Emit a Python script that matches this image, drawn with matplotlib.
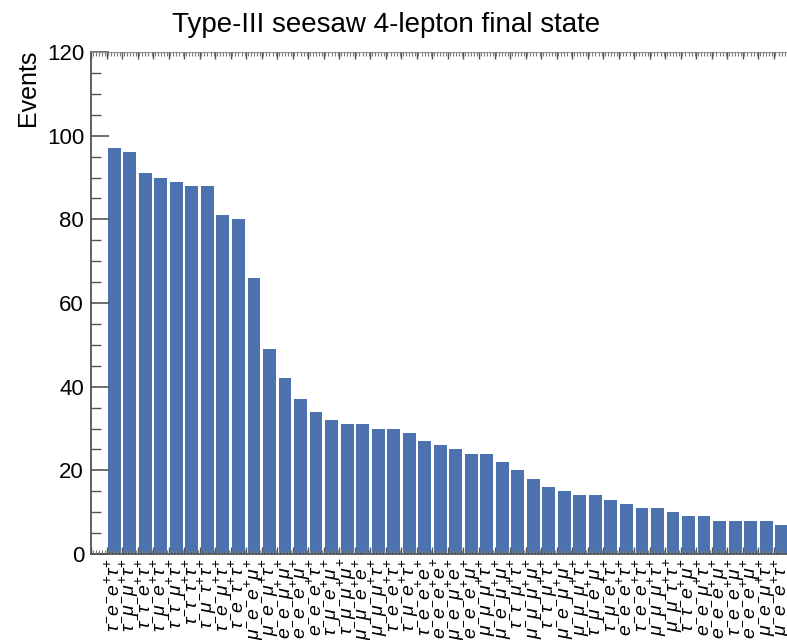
import matplotlib
matplotlib.use("Agg")
import matplotlib.pyplot as plt
from matplotlib.ticker import MultipleLocator, FixedLocator
import numpy as np

plt.rcParams['font.family'] = ['Liberation Sans', 'DejaVu Sans']
plt.rcParams['mathtext.fontset'] = 'custom'
plt.rcParams['mathtext.rm'] = 'Liberation Sans'
plt.rcParams['mathtext.it'] = 'Liberation Sans:italic'

channels = [
    "τ-e-e+τ+", "τ-μ-μ+τ+", "τ-τ-e+τ+", "τ-μ-e+τ+", "τ-τ-μ+τ+", "τ-τ-τ+τ+",
    "τ-μ-τ+τ+", "τ-e-μ+τ+", "τ-e-τ+τ+", "μ-e-e+μ+", "μ-e-μ+τ+", "e-e-μ+μ+",
    "e-e-e+μ+", "e-e-e+τ+", "τ-μ-e+μ+", "τ-μ-μ+μ+", "μ-μ-e+e+", "μ-μ-μ+τ+",
    "τ-e-e+τ+", "τ-μ-e+τ+", "τ-e-e+e+", "e-e-e+e+", "μ-e-μ+e+", "e-e-e+μ+",
    "μ-μ-μ+τ+", "μ-e-μ+μ+", "τ-τ-μ+τ+", "μ-μ-μ+μ+", "τ-τ-μ+τ+", "μ-e-μ+μ+",
    "μ-μ-μ+τ+", "τ-μ-e+μ+", "τ-μ-e+τ+", "e-e-e+τ+", "τ-e-e+τ+", "μ-μ-μ+τ+",
    "μ-μ-τ+τ+", "τ-τ-e+μ+", "e-e-μ+τ+", "e-e-e+μ+", "τ-e-e+μ+", "e-e-e+μ+",
    "μ-e-μ+τ+", "μ-e-e+τ+",
]
events = [97, 96, 91, 90, 89, 88, 88, 81, 80, 66, 49, 42, 37, 34, 32, 31, 31,
          30, 30, 29, 27, 26, 25, 24, 24, 22, 20, 18, 16, 15, 14, 14, 13, 12,
          11, 11, 10, 9, 9, 8, 8, 8, 8, 7]


def to_math(s):
    out = ""
    for ch, sign in zip(s[0::2], s[1::2]):
        sym = {"τ": r"\tau", "μ": r"\mu", "e": "e"}[ch]
        out += sym + "^{" + ("-" if sign == "-" else "+") + "}"
    return "$" + out + "$"


W, H = 787, 640
fig = plt.figure(figsize=(W / 100, H / 100), dpi=100)
unit = 15.52
left_px, bottom_px, top_px = 91, 554, 52
xmin, xmax = -1.5, 45.5
width_px = (xmax - xmin) * unit
ax = fig.add_axes([left_px / W, 1 - bottom_px / H, width_px / W, (bottom_px - top_px) / H])

x = np.arange(len(events))
ax.bar(x, events, width=0.83, color="#4C72B0")
ax.set_xlim(xmin, xmax)
ax.set_ylim(0, 120)

ax.set_xticks(x)
ax.set_xticklabels([to_math(c) for c in channels], rotation=90, ha="center",
                   va="top", fontsize=14)
ax.tick_params(axis="x", length=0, pad=3)

ax.yaxis.set_major_locator(MultipleLocator(20))
ax.yaxis.set_minor_locator(MultipleLocator(5))
ax.tick_params(axis="y", which="major", direction="in", length=13, width=1.2,
               color="#555555", labelsize=16, pad=5)
ax.tick_params(axis="y", which="minor", direction="in", length=7, width=1.0,
               color="#555555")

ax.spines["right"].set_visible(False)
ax.spines["left"].set_color("#444444")
ax.spines["bottom"].set_color("#444444")
ax.spines["top"].set_color("#999999")
ax.spines["left"].set_linewidth(1.2)
ax.spines["bottom"].set_linewidth(1.2)

ax2 = ax.twiny()
ax2.set_xlim(xmin, xmax)
ax2.xaxis.set_major_locator(FixedLocator(np.arange(-1.5, 46, 1.0)))
ax2.xaxis.set_minor_locator(MultipleLocator(0.2))
ax2.tick_params(axis="x", which="major", direction="in", length=5, width=1.0,
                color="#555555", top=True, bottom=True, labeltop=False, labelbottom=False)
ax2.tick_params(axis="x", which="minor", direction="in", length=3, width=0.8,
                color="#777777", top=True, bottom=True)
for s in ["left", "right", "bottom", "top"]:
    ax2.spines[s].set_visible(False)

fig.text(386 / W, 1 - 25 / H, "Type-III seesaw 4-lepton final state",
         ha="center", va="center", fontsize=20)
fig.text(28 / W, 1 - 50 / H, "Events", rotation=90, ha="center", va="top",
         fontsize=18)

fig.savefig("out.png", dpi=100)
